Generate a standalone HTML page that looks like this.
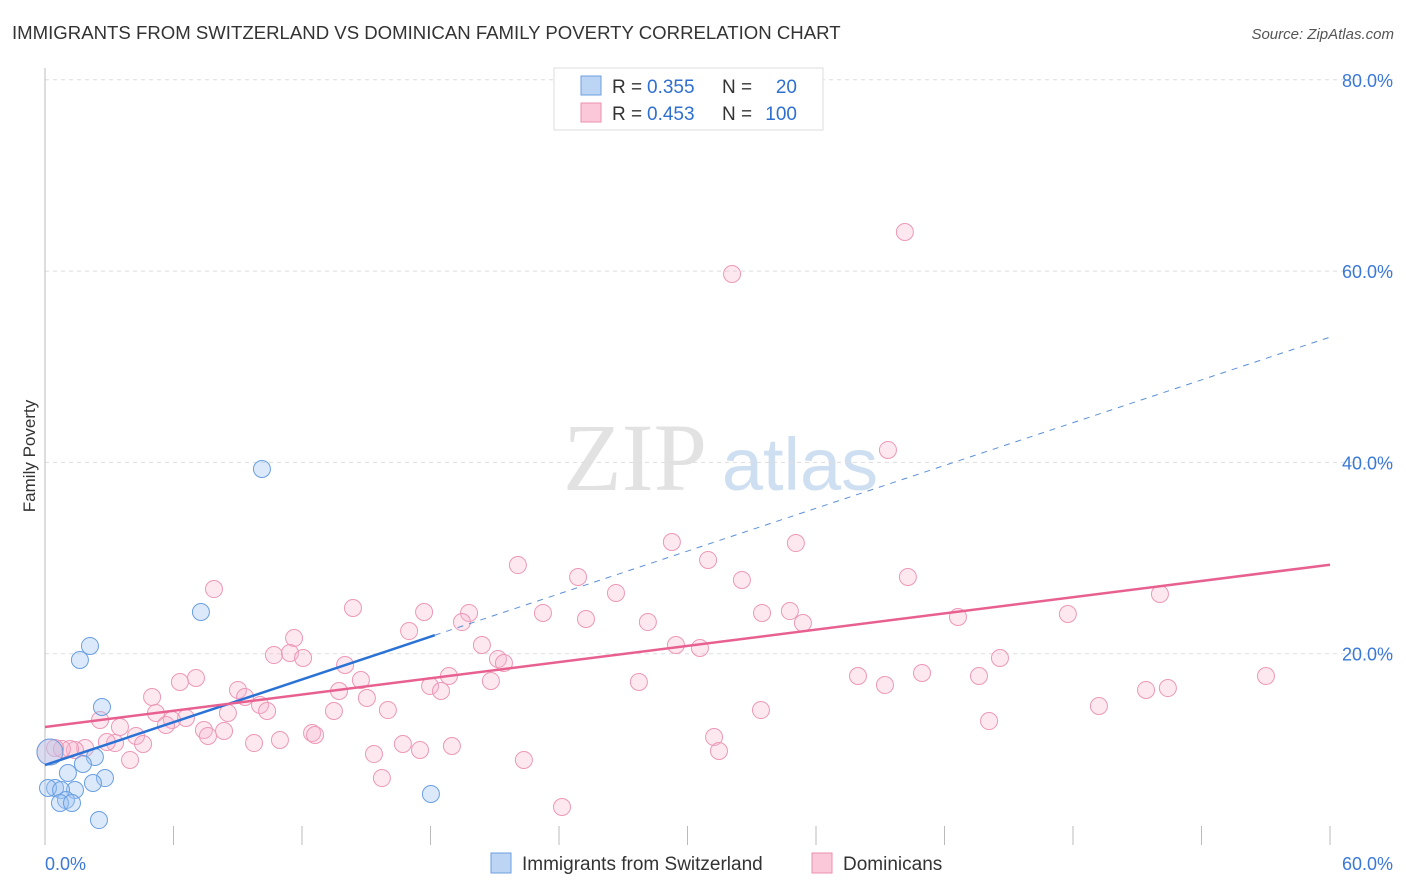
<!DOCTYPE html>
<html><head><meta charset="utf-8"><style>
body{margin:0;background:#fff;font-family:"Liberation Sans",sans-serif;}
svg{display:block}
</style></head><body>
<svg id="chart" width="1406" height="892">
<text x="12" y="39" font-size="18.6" fill="#333">IMMIGRANTS FROM SWITZERLAND VS DOMINICAN FAMILY POVERTY CORRELATION CHART</text>
<text x="1394" y="39" font-size="15" fill="#555" font-style="italic" text-anchor="end">Source: ZipAtlas.com</text>
<text x="35" y="456" font-size="17" fill="#333" text-anchor="middle" transform="rotate(-90 35 456)">Family Poverty</text>
<g><text x="635" y="490" font-size="96" fill="#e2e2e2" font-family="Liberation Serif,serif" text-anchor="middle">ZIP</text><text x="800" y="490" font-size="74" fill="#cfdff2" text-anchor="middle">atlas</text></g>
<g id="grid"></g><g id="axes"></g><g id="lines"></g><g id="pts"></g>
<g>
<rect x="554" y="68" width="269" height="62" fill="#fff" stroke="#ddd"/>
<rect x="581" y="76" width="20" height="19" fill="#bcd5f5" stroke="#6d9fe0"/>
<rect x="581" y="103" width="20" height="19" fill="#fac8d8" stroke="#eb8fb0"/>
<text x="612" y="93" font-size="19" fill="#333">R =</text>
<text x="647" y="93" font-size="19" fill="#2f6fd0">0.355</text>
<text x="722" y="93" font-size="19" fill="#333">N =</text>
<text x="797" y="93" font-size="19" fill="#2f6fd0" text-anchor="end">20</text>
<text x="612" y="120" font-size="19" fill="#333">R =</text>
<text x="647" y="120" font-size="19" fill="#2f6fd0">0.453</text>
<text x="722" y="120" font-size="19" fill="#333">N =</text>
<text x="797" y="120" font-size="19" fill="#2f6fd0" text-anchor="end">100</text>
</g>
<g>
<rect x="491" y="853" width="20" height="20" fill="#bcd5f5" stroke="#6d9fe0"/>
<text x="522" y="870" font-size="19" fill="#333">Immigrants from Switzerland</text>
<rect x="812" y="853" width="20" height="20" fill="#fac8d8" stroke="#eb8fb0"/>
<text x="843" y="870" font-size="19" fill="#333">Dominicans</text>
</g>
</svg>
<script>
const yTicks=[20,40,60,80];
const xTickLabels=["0.0%","60.0%"];
const blueX=[10.13,7.28,2.10,1.63,2.66,1.07,2.33,1.77,2.80,2.24,1.40,0.47,0.14,0.75,0.98,0.70,1.26,2.52,18.02,0.23];
const blueY=[39.31,24.36,20.81,19.34,14.43,7.53,9.20,8.47,7.00,6.48,5.75,5.96,5.96,5.75,4.70,4.39,4.39,2.61,5.33,9.72];
const pinkX=[40.15,32.08,39.36,29.27,35.06,22.08,30.96,24.89,32.54,40.29,7.89,26.66,52.06,19.80,14.38,17.70,23.25,33.48,34.78,25.26,28.15,42.63,47.76,35.39,19.47,17.00,11.63,20.40,29.46,30.58,10.69,11.44,12.05,21.15,21.43,14.01,40.95,37.96,43.61,44.59,57.01,39.22,27.73,20.82,18.86,14.75,7.05,6.30,9.01,17.98,18.49,13.73,51.41,52.43,5.00,9.34,15.03,10.04,10.37,16.01,13.49,49.21,33.43,5.18,8.54,6.58,5.93,2.57,3.50,5.65,12.47,7.42,8.36,12.61,44.08,7.61,31.24,4.25,3.27,10.97,9.76,2.89,4.58,16.71,19.00,31.47,15.36,17.51,1.87,1.40,1.17,0.79,0.47,0.23,3.97,22.36,15.73,24.14];
const pinkY=[64.09,59.70,41.30,31.68,31.57,29.27,29.80,28.02,27.71,28.02,26.76,26.35,26.24,24.26,24.78,24.36,24.26,24.26,24.46,23.63,23.31,23.84,24.15,23.21,23.31,22.37,21.64,20.91,20.91,20.60,19.86,20.07,19.55,19.45,19.03,18.82,17.98,17.67,17.67,19.55,17.67,16.73,17.04,17.15,17.67,17.25,17.46,17.04,16.21,16.62,16.10,16.10,16.21,16.41,15.47,15.47,15.37,14.64,14.01,14.11,14.01,14.53,14.11,13.80,13.80,13.28,13.07,13.07,12.34,12.55,11.71,12.02,11.92,11.50,12.96,11.40,11.29,11.40,10.66,10.98,10.66,10.77,10.56,10.56,10.35,9.83,9.51,9.93,10.14,9.93,10.04,10.04,10.14,9.72,8.89,8.89,7.00,3.97];
const blueTrend=[8.36,53.1];
const pinkTrend=[12.34,29.3];
const X=v=>45+v/60*1285, Y=v=>845-v*9.565;
const NS="http://www.w3.org/2000/svg";
function mk(t,a,p){const e=document.createElementNS(NS,t);for(const k in a)e.setAttribute(k,a[k]);document.getElementById(p).appendChild(e);return e;}
yTicks.forEach(t=>{
 const l=mk('line',{x1:45,x2:1394,y1:Y(t),y2:Y(t),stroke:'#ddd','stroke-dasharray':'4,4'},'grid');
 
 
 const tx=mk('text',{x:1393,y:Y(t)+7,'font-size':18,fill:'#3a78d8','text-anchor':'end'},'grid');tx.textContent=t.toFixed(1)+'%';
 
 
});
const ax=mk('line',{x1:45,x2:45,y1:68,y2:845,stroke:'#bbb'},'axes');


for(let i=0;i<=10;i++){const x=X(i*6);const t=mk('line',{x1:x,x2:x,y1:826,y2:845,stroke:'#bbb'},'axes');
 
 }
xTickLabels.forEach((s,i)=>{const t=mk('text',{x:i?1393:45,y:870,'font-size':18,fill:'#3a78d8','text-anchor':i?'end':'start'},'axes');t.textContent=s;
 
 });
pinkX.forEach((x,i)=>{const c=mk('circle',{cx:X(x),cy:Y(pinkY[i]),r:i==93?13:8.5,fill:'rgba(248,180,204,0.3)',stroke:'#ec98b6','stroke-width':1},'pts');
 
 });
blueX.forEach((x,i)=>{const c=mk('circle',{cx:X(x),cy:Y(blueY[i]),r:i==19?13:8.5,fill:'rgba(160,198,242,0.38)',stroke:'#6a9fe2','stroke-width':1},'pts');
 
 });
const bAt=x=>blueTrend[0]+(blueTrend[1]-blueTrend[0])*x/60;
let l=mk('line',{x1:X(0),y1:Y(bAt(0)),x2:X(18.2),y2:Y(bAt(18.2)),stroke:'#2a72d6','stroke-width':2.5},'pts');


l=mk('line',{x1:X(18.2),y1:Y(bAt(18.2)),x2:X(60),y2:Y(bAt(60)),stroke:'#5b8fd6','stroke-width':1,'stroke-dasharray':'6,6'},'pts');


l=mk('line',{x1:X(0),y1:Y(pinkTrend[0]),x2:X(60),y2:Y(pinkTrend[1]),stroke:'#e8608f','stroke-width':2.5},'pts');


</script>
</body></html>
